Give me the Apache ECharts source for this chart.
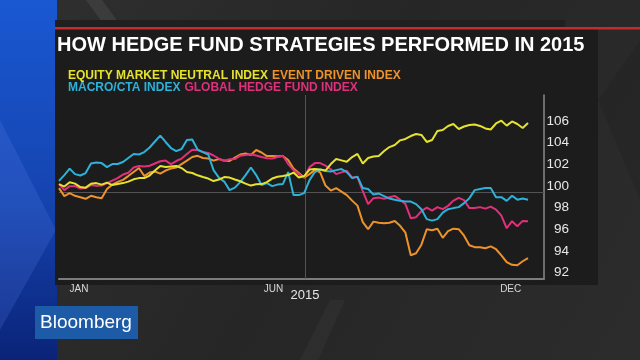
<!DOCTYPE html>
<html>
<head>
<meta charset="utf-8">
<script src="https://cdn.jsdelivr.net/npm/echarts@6/dist/echarts.min.js"></script>
<style>html,body{margin:0;padding:0;background:#29292a;}#c{width:640px;height:360px;}</style>
</head>
<body>
<div id="c"></div>
<script>
// x positions: day of year 2015 (0 = Jan 1)
const days = [0,4,8,12,16,20,24,28,32,36,40,44,48,52,56,60,64,68,72,76,80,84,88,92,96,100,104,108,112,116,120,124,128,132,136,140,144,148,152,156,160,164,168,172,176,180,184,188,192,196,200,204,208,212,216,220,224,228,232,236,240,244,248,252,256,260,264,268,272,276,280,284,288,292,296,300,304,308,312,316,320,324,328,332,336,340,344,348,352];

const seriesNames = ['EQUITY MARKET NEUTRAL INDEX', 'EVENT DRIVEN INDEX', 'MACRO/CTA INDEX', 'GLOBAL HEDGE FUND INDEX'];

const equityMarketNeutral = [100.77,100.54,100.94,100.81,100.49,100.44,100.80,100.86,100.72,100.91,
100.68,100.77,100.86,101.00,101.21,101.32,101.32,101.56,102.02,102.44,
102.34,102.39,102.44,102.25,101.88,101.79,101.58,101.42,101.28,101.05,
101.19,101.42,101.37,101.19,101.03,100.81,100.63,100.75,100.77,100.95,
101.28,101.44,101.51,101.60,101.83,101.37,101.51,102.11,102.16,102.11,
102.02,102.62,103.08,102.96,102.83,103.27,103.55,102.67,103.18,103.31,
103.36,103.82,104.19,104.38,104.81,104.94,105.21,105.40,105.31,104.66,
104.84,105.68,105.77,106.14,106.32,105.86,106.09,106.23,106.28,106.14,
105.91,105.81,106.37,106.63,106.17,106.56,106.32,105.95,106.42];

const eventDriven = [100.40,99.66,99.94,99.69,99.56,99.41,99.69,99.56,99.47,100.31,
100.72,100.97,101.16,101.51,101.88,102.25,101.51,101.83,101.93,101.74,
102.02,102.20,102.30,102.62,102.94,103.27,103.38,103.18,103.13,102.94,
103.08,102.94,102.90,103.22,103.50,103.59,103.45,103.92,103.69,103.36,
103.36,103.34,103.36,102.99,102.20,101.79,101.37,101.69,102.08,101.85,
100.63,100.17,100.40,100.07,99.75,99.24,98.78,97.25,96.60,97.30,
97.20,97.14,97.20,97.36,96.91,96.28,94.20,94.38,95.17,96.60,
96.51,96.65,95.81,96.42,96.65,96.60,96.00,95.12,94.94,94.94,
94.84,95.01,94.75,94.19,93.55,93.31,93.27,93.64,93.92];

const macroCta = [101.07,101.60,102.20,101.69,101.56,101.79,102.67,102.76,102.71,102.34,
102.62,102.62,102.81,103.18,103.55,103.50,103.73,104.15,104.70,105.24,
104.66,104.10,103.82,104.01,104.84,104.89,103.96,103.73,103.50,102.06,
101.37,101.00,100.21,100.44,100.95,101.60,102.30,101.60,100.68,100.86,
100.58,100.72,100.77,101.88,99.75,99.75,99.94,101.14,101.88,102.11,
101.97,101.93,102.06,102.16,101.88,101.32,101.46,100.40,100.31,99.80,
99.89,99.66,99.43,99.33,99.22,99.15,99.15,98.92,98.45,97.53,
97.39,97.53,98.13,98.45,98.55,98.64,99.01,99.47,100.21,100.31,
100.40,100.40,99.56,99.56,99.22,99.69,99.33,99.43,99.33];

const globalHedgeFund = [100.77,100.21,100.58,100.58,100.35,100.40,100.68,100.61,100.63,100.86,
101.09,101.32,101.65,101.81,102.30,102.44,102.39,102.46,102.67,102.88,
102.94,102.62,102.90,103.13,103.55,103.95,103.92,103.73,103.64,103.41,
103.13,102.90,103.06,103.08,103.39,103.45,103.53,103.41,103.27,103.16,
103.13,103.27,103.38,102.62,102.06,101.69,101.37,102.34,102.71,102.71,
102.48,102.13,101.69,101.85,102.00,101.37,101.42,100.12,98.92,99.47,
99.52,99.41,99.55,99.68,99.33,98.92,97.62,97.71,98.27,98.59,
98.31,98.64,98.45,98.76,99.24,99.49,99.29,98.55,98.55,98.64,
98.50,98.69,98.41,97.85,96.69,97.34,96.88,97.37,97.34];

const monthTickDays = [15, 161, 339];
const monthTickLabels = ['JAN', 'JUN', 'DEC'];
const yTickLabels = [92, 94, 96, 98, 100, 102, 104, 106];
const midYearDay = 185;

const colors = ['#e6e22e', '#ee922c', '#2db2da', '#e0307a'];
const sans = '"Liberation Sans", Arial, sans-serif';

const chart = echarts.init(document.getElementById('c'));

function pairs(vals) { return days.map((d, i) => [d, vals[i]]); }

const allVals = [equityMarketNeutral, eventDriven, macroCta, globalHedgeFund];
const drawOrder = [1, 3, 2, 0];

const series = drawOrder.map((k, j) => {
  const s = {
    name: seriesNames[k],
    type: 'line',
    data: pairs(allVals[k]),
    showSymbol: false,
    symbol: 'none',
    z: 3 + j,
    lineStyle: { color: colors[k], width: 2 },
    itemStyle: { color: colors[k] },
    animation: false
  };
  if (j === 0) {
    s.markLine = {
      silent: true,
      symbol: 'none',
      z: 1,
      animation: false,
      label: { show: false },
      lineStyle: { color: '#535355', width: 1, type: 'solid' },
      data: [{ yAxis: 100 }, { xAxis: midYearDay }]
    };
  }
  return s;
});

const option = {
  backgroundColor: '#29292a',
  animation: false,
  graphic: [
    { type: 'rect', z: -20, shape: { x: 0, y: 0, width: 640, height: 360 },
      style: { fill: new echarts.graphic.LinearGradient(0, 0, 1, 1, [
        { offset: 0, color: '#303031' }, { offset: 0.5, color: '#262627' }, { offset: 1, color: '#2c2c2d' }]) } },
    { type: 'polygon', z: -19, shape: { points: [[86, 0], [102, 0], [122, 27], [106, 27]] },
      style: { fill: 'rgba(255,255,255,0.07)' } },
    { type: 'polygon', z: -19, shape: { points: [[300, 360], [330, 300], [345, 300], [318, 360]] },
      style: { fill: 'rgba(255,255,255,0.03)' } },
    { type: 'polygon', z: -19, shape: { points: [[598, 100], [640, 40], [640, 200]] },
      style: { fill: 'rgba(0,0,0,0.08)' } },
    { type: 'rect', z: -18, shape: { x: 0, y: 0, width: 57, height: 360 },
      style: { fill: new echarts.graphic.LinearGradient(0, 0, 0, 1, [
        { offset: 0, color: '#1a58d2' }, { offset: 0.55, color: '#1544b0' }, { offset: 1, color: '#0a2378' }]) } },
    { type: 'polygon', z: -17, shape: { points: [[0, 120], [56, 230], [0, 330]] },
      style: { fill: 'rgba(110,150,255,0.16)' } },
    { type: 'rect', z: -16, shape: { x: 55, y: 20, width: 510, height: 8 },
      style: { fill: '#202021' } },
    { type: 'rect', z: -16, shape: { x: 55, y: 29, width: 543, height: 256 },
      style: { fill: '#1c1c1d' } },
    { type: 'rect', z: -15, shape: { x: 55, y: 27, width: 585, height: 2.5 },
      style: { fill: '#c8282e' } },
    { type: 'rect', z: 20, shape: { x: 35, y: 306, width: 103, height: 33 },
      style: { fill: '#1d5ba6' } },
    { type: 'text', z: 21, x: 86, y: 323,
      style: { text: 'Bloomberg', fill: '#ffffff', font: '19px ' + sans, align: 'center', verticalAlign: 'middle' } }
  ],
  title: {
    text: 'HOW HEDGE FUND STRATEGIES PERFORMED IN 2015',
    left: 57, top: 35, padding: 0,
    textStyle: { color: '#ffffff', fontSize: 20, fontWeight: 'bold', fontFamily: sans }
  },
  legend: [
    { data: [
        { name: seriesNames[0], textStyle: { color: colors[0] } },
        { name: seriesNames[1], textStyle: { color: colors[1] } }],
      left: 63, top: 70, padding: 0, icon: 'rect', itemWidth: 0, itemHeight: 0, itemGap: -1,
      selectedMode: false,
      textStyle: { fontSize: 12, fontWeight: 'bold', fontFamily: sans } },
    { data: [
        { name: seriesNames[2], textStyle: { color: colors[2] } },
        { name: seriesNames[3], textStyle: { color: colors[3] } }],
      left: 63, top: 82, padding: 0, icon: 'rect', itemWidth: 0, itemHeight: 0, itemGap: -1,
      selectedMode: false,
      textStyle: { fontSize: 12, fontWeight: 'bold', fontFamily: sans } }
  ],
  grid: { left: 59, right: 96, top: 95, bottom: 81, containLabel: false },
  xAxis: {
    type: 'value', min: 0, max: 364,
    axisLine: { show: true, onZero: false, lineStyle: { color: '#7c7c7e', width: 2 } },
    axisTick: { show: false },
    splitLine: { show: false },
    axisLabel: {
      customValues: monthTickDays,
      margin: 5,
      color: '#d8d8d8', fontSize: 10, fontFamily: sans,
      formatter: v => { const i = monthTickDays.indexOf(v); return i >= 0 ? monthTickLabels[i] : ''; }
    },
    name: '2015', nameLocation: 'middle', nameGap: 10, nameMoveOverlap: false,
    nameTextStyle: { color: '#e6e6e6', fontSize: 13, fontFamily: sans, padding: [0, 0, 0, 7] }
  },
  yAxis: {
    type: 'value', position: 'right', min: 92, max: 109, interval: 2,
    axisLine: { show: true, onZero: false, lineStyle: { color: '#8a8a8c', width: 1.5 } },
    axisTick: { show: false },
    splitLine: { show: false },
    axisLabel: {
      color: '#e8e8e8', fontSize: 13.5, fontFamily: sans,
      align: 'right', margin: 25, verticalAlign: 'bottom', lineHeight: 13,
      formatter: v => yTickLabels.indexOf(v) >= 0 ? String(v) : ''
    }
  },
  series: series
};
chart.setOption(option);
</script>
</body>
</html>
